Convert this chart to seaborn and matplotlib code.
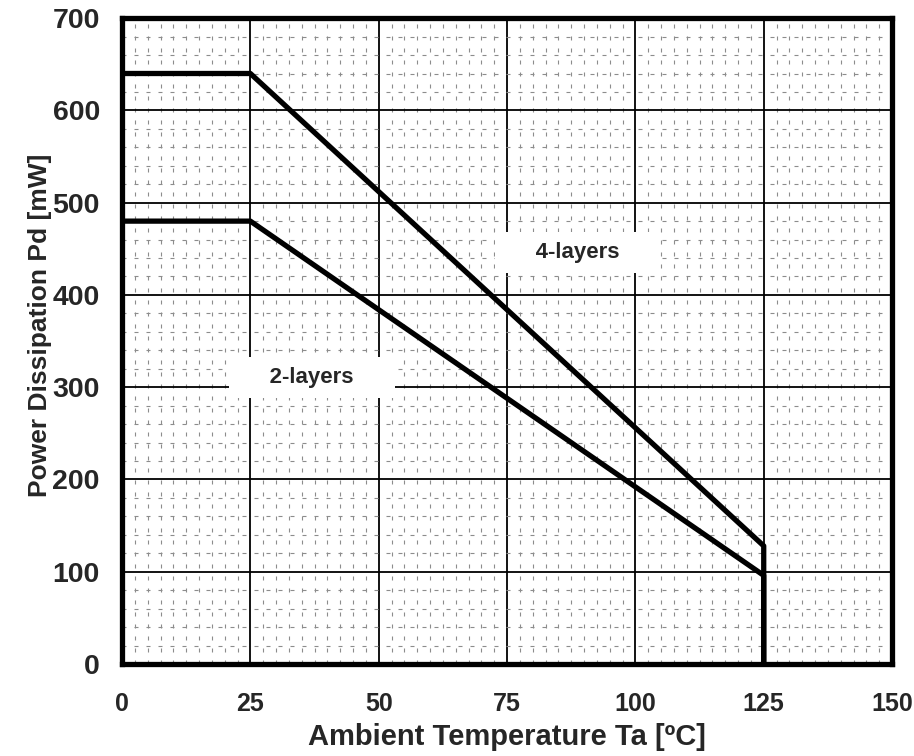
import numpy as np
import pandas as pd
import matplotlib
matplotlib.use("Agg")
import matplotlib.pyplot as plt
import seaborn as sns
from matplotlib.ticker import MultipleLocator

# --- data ---
temp_c = [0, 25, 125, 125]
pd_4layers = [640, 640, 128, 0]
pd_2layers = [480, 480, 96, 0]

x_ticks = [0, 25, 50, 75, 100, 125, 150]
y_ticks = [0, 100, 200, 300, 400, 500, 600, 700]

sns.set_style("white")
plt.rcParams['font.family'] = ['Liberation Sans', 'DejaVu Sans']
plt.rcParams['font.weight'] = 'bold'

fig = plt.figure(figsize=(9.14, 7.56), dpi=100)
ax = fig.add_axes([0.1335, 0.1217, 0.976 - 0.1335, 0.976 - 0.1217])

for vals in (pd_4layers, pd_2layers):
    sns.lineplot(x=temp_c, y=vals, ax=ax, color='black', lw=3.8,
                 sort=False, estimator=None, zorder=4)

ax.set_xlim(0, 150)
ax.set_ylim(0, 700)
ax.set_xticks(x_ticks)
ax.set_yticks(y_ticks)
ax.xaxis.set_minor_locator(MultipleLocator(2.5))
ax.yaxis.set_minor_locator(MultipleLocator(20))

ax.grid(which='major', color='black', lw=1.3, zorder=1)
ax.grid(which='minor', color='#8c8c8c', lw=0.8, linestyle=(0, (3.6, 7.2)), zorder=0)
ax.set_axisbelow(True)

ax.tick_params(which='both', length=0)
ax.tick_params(axis='x', pad=20, labelsize=18)
ax.tick_params(axis='y', pad=16, labelsize=20.5)
for lbl in ax.get_xticklabels() + ax.get_yticklabels():
    lbl.set_fontweight('bold')

for sp in ax.spines.values():
    sp.set_visible(True)
    sp.set_color('black')
    sp.set_linewidth(3.8)
    sp.set_zorder(6)

ax.set_xlabel('Ambient Temperature Ta [ºC]', fontsize=21, fontweight='bold', va='center')
ax.set_ylabel('Power Dissipation Pd [mW]', fontsize=19, fontweight='bold', va='center')
ax.xaxis.set_label_coords(0.5, -0.113)
ax.yaxis.set_label_coords(-0.106, 0.525)

box = dict(boxstyle='square,pad=0.45', fc='white', ec='none')
ax.text(88.8, 446, '     4-layers     ', ha='center', va='center',
        fontsize=16, fontweight='bold', bbox=box, zorder=5)
ax.text(37, 311, '     2-layers     ', ha='center', va='center',
        fontsize=16, fontweight='bold', bbox=box, zorder=5)

fig.savefig('out.png', dpi=100)
